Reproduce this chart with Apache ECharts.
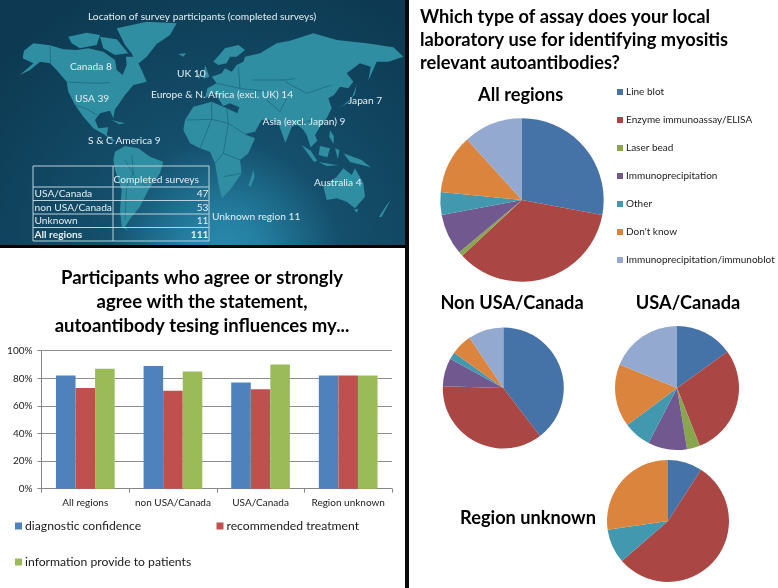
<!DOCTYPE html>
<html><head><meta charset="utf-8">
<style>html,body{margin:0;padding:0;background:#fff}#c{width:778px;height:588px}</style>
<script src="https://cdn.jsdelivr.net/npm/echarts@6/dist/echarts.min.js"></script>
</head><body><div id="c"></div>
<script>
// ---- data ----
const barCategories = ['All regions','non USA/Canada','USA/Canada','Region unknown'];
const diagnosticConfidence = [82,89,77,82];
const recommendedTreatment = [73,71,72,82];
const informationToPatients = [87,85,90,82];
const assayTypes = ['Line blot','Enzyme immunoassay/ELISA','Laser bead','Immunoprecipitation','Other',"Don't know",'Immunoprecipitation/immunoblot'];
const allRegions = [31,39,1,9,5,13,13];
const nonUsaCanada = [21,19,0,4,1,3,5];
const usaCanada = [15.1,28.9,3.4,10.2,7.2,16.4,18.8];
const regionUnknown = [1,6,0,0,1,3,0];
const tableRows = ['USA/Canada','non USA/Canada','Unknown','All regions'];
const tableValues = [47,53,11,111];
const mapLabels = ['Canada 8','USA 39','UK 10','Europe & N. Africa (excl. UK) 14','Japan 7','Asia (excl. Japan) 9','S & C America 9','Australia 4','Unknown region 11'];

// ---- decorative map (traced outline, not chart data) ----
const landW = [ // x origin 0
 [72,92,100,70,150,76,190,88,230,90,265,85,310,95,345,120,350,150,368,165,380,135,378,110,405,110,425,150,440,185,400,195,375,225,358,250,345,268,340,295,330,272,300,280,285,300,295,325,325,322,320,345,345,362,338,365,315,345,280,325,250,290,225,255,205,215,200,185,170,150,150,130,120,125,90,150,60,165,100,130,68,115],
 [205,50,260,38,300,45,290,75,240,85,215,70],
 [300,50,350,58,385,100,345,105,310,85],
 [335,300,375,310,358,313],
 [345,395,375,378,415,385,450,410,490,425,480,460,445,510,420,560,395,590,375,620,385,632,365,620,360,570,365,510,345,450,340,420],
 [535,102,558,100,550,110]
];
const landE = [ // x origin 180
 [-190,25,-100,5,-10,10,-30,45,-70,72,-100,110,-130,135,-145,100,-165,75],
 [75,135,88,170,70,176],[52,160,64,166,56,178],
 [100,125,135,85,175,75,195,90,170,110,150,110,140,130,115,135],
 [40,260,95,245,140,265,172,280,200,345,225,355,205,400,180,420,185,460,150,510,125,535,115,490,105,430,90,395,60,385,30,370,10,330,15,300],
 [220,450,205,497,212,500,224,470],
 [75,235,82,205,110,190,95,170,125,160,135,145,155,155,170,135,190,125,195,110,240,100,290,70,330,62,400,40,470,60,560,70,640,82,670,110,625,125,590,125,565,182,572,140,540,130,500,160,520,185,505,205,480,200,462,225,445,235,455,265,440,295,420,320,405,345,412,362,392,382,380,345,370,330,350,312,335,322,316,368,295,310,262,298,245,300,225,335,195,342,170,285,178,262,150,250,130,258,112,232,100,218],
 [475,265,505,248,525,222,530,195,515,235,490,255],
 [365,375,392,392,412,422,402,426],[420,378,450,385,442,412,416,405],[415,426,475,436,440,438],
 [450,330,462,350,460,372,448,350],[465,385,478,390,474,418],
 [490,400,545,420,572,442,510,426],
 [430,500,470,470,490,445,515,465,525,445,550,490,555,530,525,565,500,545,470,535,440,540,435,520],
 [522,568,535,568,530,578],[632,540,605,590,596,592,620,555]
];
const bordersW = [[150,76,152,130],[200,186,292,190,330,188],[225,255,262,268,292,285],[375,420,405,470,445,505],[395,405,400,460,380,500,375,600]];
const bordersE = [[20,300,95,298,95,245],[60,385,95,298,145,310,140,265],[145,310,200,345],[145,310,130,400,180,420],[105,430,130,400],[130,470,185,460],[315,185,380,220,455,195],[215,180,320,180,345,175],[260,240,300,275,320,235],[180,205,260,215],[110,190,180,205,175,140],[350,312,400,300,420,320]];

const FONT = 'Lato';
const BLUE='#4f81bd', RED='#c0504d', GREEN='#9bbb59';
const PIE=['#4573a7','#aa4643','#89a54e','#71588f','#4198af','#db843d','#93a9cf'];

const pts=(a,ox)=>{const r=[];for(let i=0;i<a.length;i+=2)r.push([ox+a[i]/3,20+a[i+1]/3]);return r;};
const graphics=[];
graphics.push({type:'rect',shape:{x:0,y:0,width:405,height:245},style:{fill:new echarts.graphic.RadialGradient(0.55,1.05,1.2,[{offset:0,color:'#2c8bb0'},{offset:0.13,color:'#2580a2'},{offset:0.4,color:'#144f6c'},{offset:1,color:'#0d3a52'}])}});
const LAND='#2f8ea2';
landW.forEach(a=>graphics.push({type:'polygon',shape:{points:pts(a,0)},style:{fill:LAND}}));
landE.forEach(a=>graphics.push({type:'polygon',shape:{points:pts(a,180)},style:{fill:LAND}}));
bordersW.forEach(a=>graphics.push({type:'polyline',shape:{points:pts(a,0)},style:{stroke:'#1c6478',lineWidth:0.7,fill:null}}));
bordersE.forEach(a=>graphics.push({type:'polyline',shape:{points:pts(a,180)},style:{stroke:'#1c6478',lineWidth:0.7,fill:null}}));

const WHITE='#e4eef2';
const txt=(t,x,y,opt={})=>graphics.push({type:'text',x,y,z:5,style:Object.assign({text:t,fill:WHITE,font:'10.2px '+FONT,textVerticalAlign:'middle',textBaseline:'middle'},opt)});
txt('Location of survey participants (completed surveys)',88,17);
const labelPos=[[70,67],[75,99],[177,73.5],[151,94.5],[348,100.5],[262.5,121.5],[88,141],[314,183],[212,217]];
mapLabels.forEach((t,i)=>txt(t,labelPos[i][0],labelPos[i][1]));
// table
const tx=[33,113,209], ty=[166,187,200.5,214,227.5,241];
const line=(x1,y1,x2,y2)=>graphics.push({type:'line',z:4,shape:{x1,y1,x2,y2},style:{stroke:'#b9d3dd',lineWidth:1}});
tx.forEach(x=>line(x,ty[0],x,ty[5]));
ty.forEach(y=>line(tx[0],y,tx[2],y));
txt('Completed surveys',113.5,180);
tableRows.forEach((t,i)=>{
  const bold=i===3, f=(bold?'bold ':'')+'10.2px '+FONT, y=(ty[i+1]+ty[i+2])/2;
  txt(t,34.5,y,{font:f});
  txt(String(tableValues[i]),208.5,y,{font:f,textAlign:'right',align:'right'});
});
// panel borders
graphics.push({type:'rect',z:6,shape:{x:0,y:245,width:405,height:3},style:{fill:'#000'}});
graphics.push({type:'rect',z:6,shape:{x:405,y:0,width:4,height:588},style:{fill:'#0a0a0a'}});

const titleStyle=(size)=>({fontFamily:FONT,fontWeight:'bold',fontSize:size,color:'#000',lineHeight:size*1.25});

const pie=(name,values,cx,cy,r)=>({type:'pie',name,center:[cx,cy],radius:[0,r],startAngle:90,clockwise:true,
  label:{show:false},labelLine:{show:false},silent:true,animation:false,
  itemStyle:{borderWidth:0},stillShowZeroSum:false,
  data:assayTypes.map((n,i)=>({name:n,value:values[i],itemStyle:{color:PIE[i]}}))});
const barLegend=(name,x,y)=>({data:[name],left:x,top:y,itemWidth:7,itemHeight:7,icon:'rect',selectedMode:false,padding:0,itemGap:0,textStyle:{fontFamily:FONT,fontSize:12.2,color:'#1a1a1a',padding:[0,0,0,-2]}});
const bar=(name,data,color)=>({type:'bar',name,data,barGap:0,barCategoryGap:'33%',itemStyle:{color},silent:true,animation:false});

const option={
  animation:false,
  backgroundColor:'#fff',
  graphic:{elements:graphics},
  title:[
    {text:'Which type of assay does your local\nlaboratory use for identifying myositis\nrelevant autoantibodies?',left:420,top:6,padding:0,textStyle:{fontFamily:FONT,fontWeight:'bold',fontSize:18.25,lineHeight:23,color:'#000'}},
    {text:'Participants who agree or strongly\nagree with the statement,\nautoantibody tesing influences my...',left:202,top:266,padding:0,textAlign:'center',textStyle:{fontFamily:FONT,fontWeight:'bold',fontSize:18.5,lineHeight:24,color:'#000'}},
    {text:'All regions',left:520.7,top:84,padding:0,textAlign:'center',textStyle:titleStyle(18.2)},
    {text:'Non USA/Canada',left:512,top:292,padding:0,textAlign:'center',textStyle:titleStyle(18.2)},
    {text:'USA/Canada',left:688,top:292,padding:0,textAlign:'center',textStyle:titleStyle(18.2)},
    {text:'Region unknown',left:528,top:507,padding:0,textAlign:'center',textStyle:titleStyle(18.2)}
  ],
  legend:[
    {data:assayTypes,orient:'vertical',left:617,top:86,itemWidth:6,itemHeight:6,itemGap:16,icon:'rect',selectedMode:false,padding:0,textStyle:{fontFamily:FONT,fontSize:10,color:'#1a1a1a',lineHeight:12,padding:[0,0,0,-2]}},
    barLegend('diagnostic confidence',15,520),
    barLegend('recommended treatment',216.5,520),
    barLegend('information provide to patients',15,556)
  ],
  grid:{left:41.5,top:350.7,width:350.5,height:138},
  xAxis:{type:'category',data:barCategories,
    axisLine:{lineStyle:{color:'#868686'}},axisTick:{show:true,length:4,alignWithLabel:false,lineStyle:{color:'#868686'}},
    axisLabel:{fontFamily:FONT,fontSize:10,color:'#1a1a1a',margin:9,interval:0}},
  yAxis:{type:'value',min:0,max:100,interval:20,
    axisLine:{show:true,lineStyle:{color:'#868686'}},axisTick:{show:true,length:4,lineStyle:{color:'#868686'}},
    splitLine:{lineStyle:{color:'#8e8e8e'}},
    axisLabel:{fontFamily:FONT,fontSize:10,color:'#1a1a1a',margin:9,formatter:'{value}%'}},
  series:[
    bar('diagnostic confidence',diagnosticConfidence,BLUE),
    bar('recommended treatment',recommendedTreatment,RED),
    bar('information provide to patients',informationToPatients,GREEN),
    pie('All regions',allRegions,522,200,81.7),
    pie('Non USA/Canada',nonUsaCanada,503.3,388,60.5),
    pie('USA/Canada',usaCanada,677,388,62),
    pie('Region unknown',regionUnknown,668,521,61)
  ]
};
const chart=echarts.init(document.getElementById('c'),null,{renderer:'canvas'});
chart.setOption(option);
</script></body></html>
